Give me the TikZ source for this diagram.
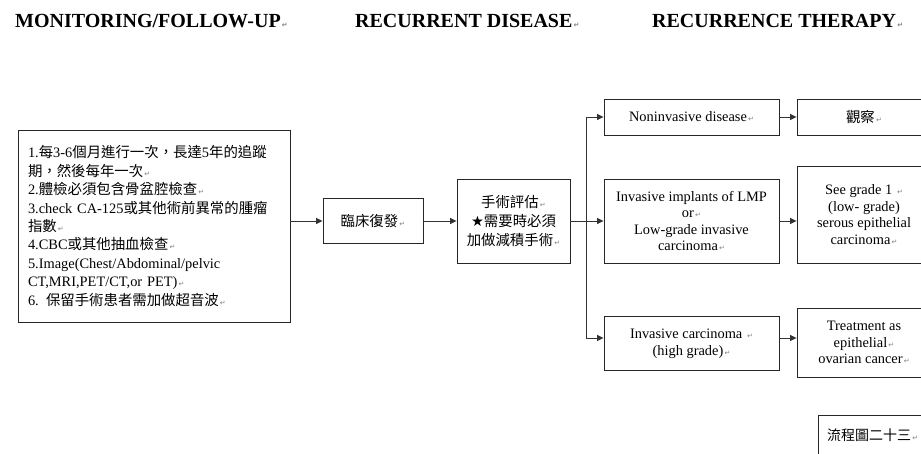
\documentclass[tikz,border=0pt]{standalone}
\usepackage{fontspec}
\setmainfont{Liberation Serif}
\newfontfamily\cjk{Noto Sans CJK TC}
\newfontfamily\symfont{DejaVu Sans}
\usetikzlibrary{arrows.meta}
% CJK run, return mark, star
\newcommand{\zh}[1]{{\cjk #1}}
\newcommand{\rmk}{{\symfont\fontsize{7}{7}\selectfont\color{gray}\,↵}}
\newcommand{\bstar}{{\symfont ★}}
\begin{document}
\begin{tikzpicture}[x=1pt,y=-1pt,
  box/.style={draw=black!85, line width=0.9pt, inner sep=0pt, align=center,
    font=\fontsize{14.4}{16.6}\selectfont},
  arr/.style={draw=black!80, line width=0.9pt, -{Triangle[length=6.5pt,width=6pt]}},
  link/.style={draw=black!80, line width=0.9pt},
  head/.style={font=\fontsize{20}{22}\bfseries\selectfont, inner sep=0pt, anchor=base west}]
\useasboundingbox (0,0) rectangle (921,454);
\clip (0,0) rectangle (921,454);

% column headings
\node[head] (h1) at (15,28) {MONITORING/FOLLOW-UP\rmk};
\node[head] (h2) at (355,28) {RECURRENT DISEASE\rmk};
\node[head] (h3) at (652,28) {RECURRENCE THERAPY\rmk};

% follow-up box
\node[box, minimum width=272pt, minimum height=192pt, text width=252pt, align=left,
  font=\fontsize{14.4}{18.4}\selectfont] (fu) at (154,226) {%
1.\zh{每}3-6\zh{個月進行一次，長達}5\zh{年的追蹤}\\
\zh{期，然後每年一次}\rmk\\
2.\zh{體檢必須包含骨盆腔檢查}\rmk\\
3.check CA-125\zh{或其他術前異常的腫瘤}\\
\zh{指數}\rmk\\
4.CBC\zh{或其他抽血檢查}\rmk\\
5.Image(Chest/Abdominal/pelvic\\
CT,MRI,PET/CT,or PET)\rmk\\
6. \zh{保留手術患者需加做超音波}\rmk};

% recurrence
\node[box, minimum width=100pt, minimum height=45pt] (rec) at (373,221) {\zh{臨床復發}\rmk};
\node[box, minimum width=113pt, minimum height=84pt, font=\fontsize{14.4}{19}\selectfont] (eval) at (513.5,221)
  {\zh{手術評估}\rmk\\ \bstar\zh{需要時必須}\\ \zh{加做減積手術}\rmk};

% disease categories
\node[box, minimum width=175pt, minimum height=36pt] (non) at (691.5,117) {Noninvasive disease\rmk};
\node[box, minimum width=175pt, minimum height=84pt] (low) at (691.5,221)
  {Invasive implants of LMP\\or\rmk\\Low-grade invasive\\carcinoma\rmk};
\node[box, minimum width=175pt, minimum height=54pt] (high) at (691.5,343.5)
  {Invasive carcinoma \rmk\\(high grade)\rmk};

% therapy
\node[box, minimum width=134pt, minimum height=36pt] (obs) at (864,117) {\zh{觀察}\rmk};
\node[box, minimum width=134pt, minimum height=97pt] (see) at (864,214.5)
  {See grade 1 \rmk\\(low- grade)\\serous epithelial\\carcinoma\rmk};
\node[box, minimum width=134pt, minimum height=69pt] (treat) at (864,342.5)
  {Treatment as\\epithelial\rmk\\ovarian cancer\rmk};

% figure label
\node[box, minimum width=114pt, minimum height=50pt, anchor=north west] (lab) at (818,415) {};
\node[anchor=west, inner sep=0pt, font=\fontsize{14}{16}\selectfont] (labtext) at (827,435)
  {\zh{流程圖二十三}\rmk};

% connectors
\draw[arr] (fu.east |- rec.west) -- (rec.west);
\draw[arr] (rec.east) -- (eval.west);
\coordinate (jn) at (586,221);
\draw[link] (eval.east) -- (jn);
\draw[arr] (jn) |- (non.west);
\draw[arr] (jn) -- (low.west);
\draw[arr] (jn) |- ([yshift=5.5pt]high.west);
\draw[arr] (non.east) -- (obs.west);
\draw[arr] (low.east) -- (low.east -| see.west);
\draw[arr] ([yshift=5.5pt]high.east) -- ([yshift=5.5pt]high.east -| treat.west);
\end{tikzpicture}
\end{document}
